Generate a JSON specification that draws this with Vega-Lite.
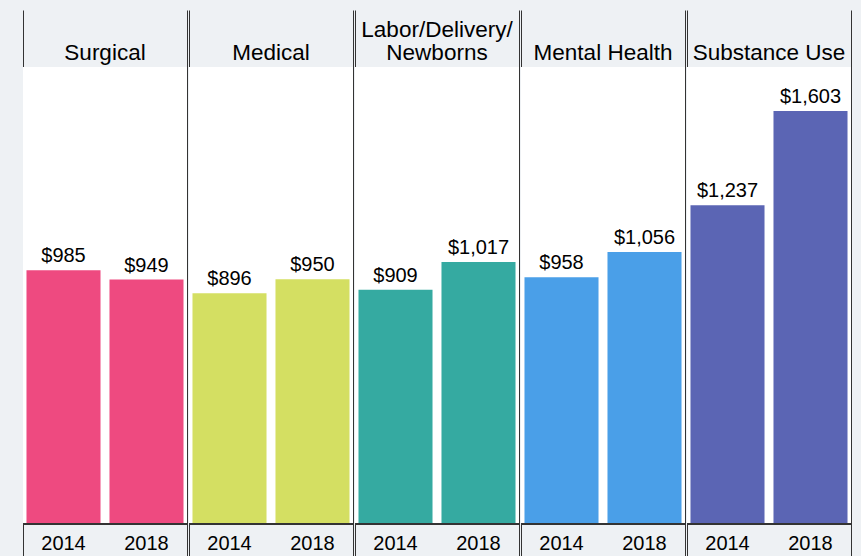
{
  "$schema": "https://vega.github.io/schema/vega-lite/v6.json",
  "background": "#eef1f4",
  "padding": {"left": 22, "top": 10, "right": 9, "bottom": 0},
  "data": {
    "values": [
      {"category": "Surgical", "year": "2014", "value": 985},
      {"category": "Surgical", "year": "2018", "value": 949},
      {"category": "Medical", "year": "2014", "value": 896},
      {"category": "Medical", "year": "2018", "value": 950},
      {"category": "Labor/Delivery/\nNewborns", "year": "2014", "value": 909},
      {"category": "Labor/Delivery/\nNewborns", "year": "2018", "value": 1017},
      {"category": "Mental Health", "year": "2014", "value": 958},
      {"category": "Mental Health", "year": "2018", "value": 1056},
      {"category": "Substance Use", "year": "2014", "value": 1237},
      {"category": "Substance Use", "year": "2018", "value": 1603}
    ]
  },
  "facet": {
    "column": {
      "field": "category",
      "type": "nominal",
      "sort": ["Surgical", "Medical", "Labor/Delivery/\nNewborns", "Mental Health", "Substance Use"],
      "header": {"labels": false, "title": null}
    }
  },
  "spacing": 0,
  "spec": {
    "width": 164,
    "height": 546,
    "layer": [
      {
        "mark": {"type": "rect", "color": "white"},
        "encoding": {
          "y": {"datum": 0, "type": "quantitative", "scale": {"domain": [-124, 1995], "nice": false, "zero": false}, "axis": null},
          "y2": {"datum": 1774}
        }
      },
      {
        "mark": {"type": "bar"},
        "encoding": {
          "x": {"field": "year", "type": "nominal", "scale": {"paddingInner": 0.108, "paddingOuter": 0.042}, "axis": null},
          "y": {"field": "value", "type": "quantitative", "scale": {"domain": [-124, 1995], "nice": false, "zero": false},
            "axis": {"orient": "left", "labels": false, "ticks": false, "grid": false, "title": null, "domainColor": "#333333", "domainWidth": 1}},
          "color": {
            "field": "category",
            "type": "nominal",
            "scale": {
              "domain": ["Surgical", "Medical", "Labor/Delivery/\nNewborns", "Mental Health", "Substance Use"],
              "range": ["#EE4A80", "#D4DF62", "#35AAA1", "#4A9FE8", "#5B65B4"]
            },
            "legend": null
          }
        }
      },
      {
        "mark": {"type": "rule", "color": "#333333", "strokeWidth": 2},
        "encoding": {
          "y": {"datum": 0, "type": "quantitative", "scale": {"domain": [-124, 1995], "nice": false, "zero": false},
            "axis": {"orient": "right", "labels": false, "ticks": false, "grid": false, "title": null, "domainColor": "#333333", "domainWidth": 1}}
        }
      },
      {
        "mark": {"type": "text", "fontSize": 20, "font": "Liberation Sans", "color": "black", "baseline": "alphabetic", "dy": -8},
        "encoding": {
          "x": {"field": "year", "type": "nominal", "axis": null},
          "y": {"field": "value", "type": "quantitative", "scale": {"domain": [-124, 1995], "nice": false, "zero": false}, "axis": null},
          "text": {"field": "value", "type": "quantitative", "format": "$,.0f"}
        }
      },
      {
        "mark": {"type": "text", "fontSize": 20, "font": "Liberation Sans", "color": "black", "baseline": "alphabetic"},
        "encoding": {
          "x": {"field": "year", "type": "nominal", "axis": null},
          "y": {"datum": -99, "type": "quantitative", "scale": {"domain": [-124, 1995], "nice": false, "zero": false}, "axis": null},
          "text": {"field": "year", "type": "nominal"}
        }
      },
      {
        "transform": [{"filter": "datum.year == '2014' && indexof(datum.category, '/') < 0"}],
        "mark": {"type": "text", "fontSize": 22.5, "font": "Liberation Sans", "color": "black", "baseline": "bottom", "align": "center"},
        "encoding": {
          "y": {"datum": 1781, "type": "quantitative", "scale": {"domain": [-124, 1995], "nice": false, "zero": false}, "axis": null},
          "text": {"field": "category", "type": "nominal"}
        }
      },
      {
        "transform": [{"filter": "datum.year == '2014' && indexof(datum.category, '/') >= 0"}],
        "mark": {"type": "text", "fontSize": 22.5, "font": "Liberation Sans", "color": "black", "baseline": "bottom", "align": "center", "lineBreak": "\n", "lineHeight": 23},
        "encoding": {
          "y": {"datum": 1870, "type": "quantitative", "scale": {"domain": [-124, 1995], "nice": false, "zero": false}, "axis": null},
          "text": {"field": "category", "type": "nominal"}
        }
      }
    ],
    "resolve": {"axis": {"y": "independent"}}
  },
  "resolve": {"axis": {"y": "independent"}},
  "config": {"view": {"stroke": null}, "font": "Liberation Sans"}
}
